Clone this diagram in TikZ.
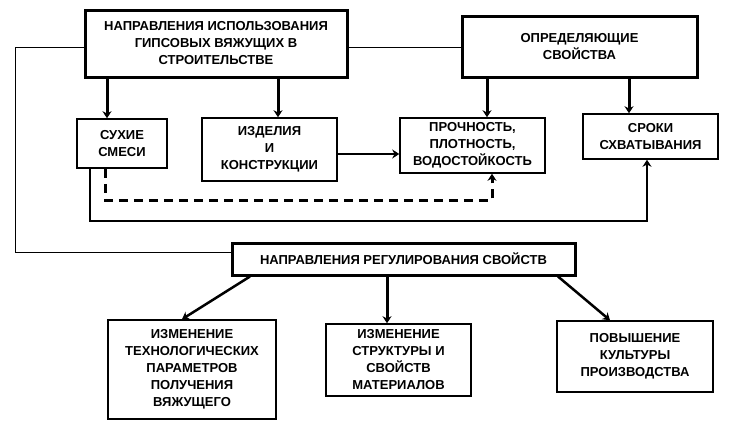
\documentclass[tikz,border=0pt]{standalone}
\usepackage{fontspec}
\setmainfont{Liberation Sans}
\usetikzlibrary{arrows.meta}

\tikzstyle{box} = [draw,align=center,inner sep=2pt,font=\bfseries\fontsize{13}{17}\selectfont]
\tikzstyle{thickbox} = [box,line width=3pt]
\tikzstyle{thinbox} = [box,line width=1.5pt]
\tikzstyle{link} = [draw,line width=1pt]
\tikzstyle{arrowdecorate} = [-{Stealth[length=7pt,width=9pt]},line width=3pt]

\begin{document}
\begin{tikzpicture}[x=1pt,y=-1pt]
      \useasboundingbox (0,0) rectangle (736,434);
      %nodes
      \foreach \nodename/\x/\y/\w/\h/\kind/\txt in {
        use/216/43.5/262/67/thickbox/{НАПРАВЛЕНИЯ ИСПОЛЬЗОВАНИЯ\\ГИПСОВЫХ ВЯЖУЩИХ В\\СТРОИТЕЛЬСТВЕ},
        prop/579.5/46.5/235/61/thickbox/{ОПРЕДЕЛЯЮЩИЕ\\СВОЙСТВА},
        dry/122/143.5/90/49/thinbox/{СУХИЕ\\СМЕСИ},
        prod/269.5/149.5/135/63/thinbox/{ИЗДЕЛИЯ\\И\\КОНСТРУКЦИИ},
        str/472.5/145.5/145/55/thinbox/{ПРОЧНОСТЬ,\\ПЛОТНОСТЬ,\\ВОДОСТОЙКОСТЬ},
        set/650.5/136.5/135/45/thinbox/{СРОКИ\\СХВАТЫВАНИЯ},
        reg/403.5/259/343/32/thickbox/{НАПРАВЛЕНИЯ РЕГУЛИРОВАНИЯ СВОЙСТВ},
        tech/192/369.5/168/99/thinbox/{ИЗМЕНЕНИЕ\\ТЕХНОЛОГИЧЕСКИХ\\ПАРАМЕТРОВ\\ПОЛУЧЕНИЯ\\ВЯЖУЩЕГО},
        struct/398.5/360/145/72/thinbox/{ИЗМЕНЕНИЕ\\СТРУКТУРЫ И\\СВОЙСТВ\\МАТЕРИАЛОВ},
        cult/635/356.5/156/71/thinbox/{ПОВЫШЕНИЕ\\КУЛЬТУРЫ\\ПРОИЗВОДСТВА}}
      {
        \node[\kind, minimum width=\w pt, minimum height=\h pt] (\nodename) at (\x,\y) {\txt};
      };
      %thin links
      \draw[link] (use.west |- 0,47) -- (15,47) -- (15,252) -- (reg.west |- 0,252);
      \draw[link] (use.east |- 0,47) -- (prop.west |- 0,47);
      %arrows
      \foreach \startnode/\endnode/\x in {use/dry/107, use/prod/278, prop/str/487, prop/set/629, reg/struct/387}
      {
        \draw[arrowdecorate] (\startnode.south -| \x,0) -- (\endnode.north -| \x,0);
      };
      \draw[arrowdecorate,line width=2.5pt] (reg.south -| 250,0) -- (tech.north -| 182,0);
      \draw[arrowdecorate,line width=2.5pt] (reg.south -| 558,0) -- (cult.north -| 610,0);
      \draw[arrowdecorate,line width=2pt] (prod.east |- 0,154) -- (str.west |- 0,154);
      \draw[arrowdecorate,dash pattern=on 9pt off 6pt] (dry.south -| 105,0) -- (105,200) -- (492,200) -- (str.south -| 492,0);
      \draw[arrowdecorate,line width=2.5pt] (dry.south -| 90,0) -- (90,221) -- (647,221) -- (set.south -| 647,0);
\end{tikzpicture}
\end{document}
